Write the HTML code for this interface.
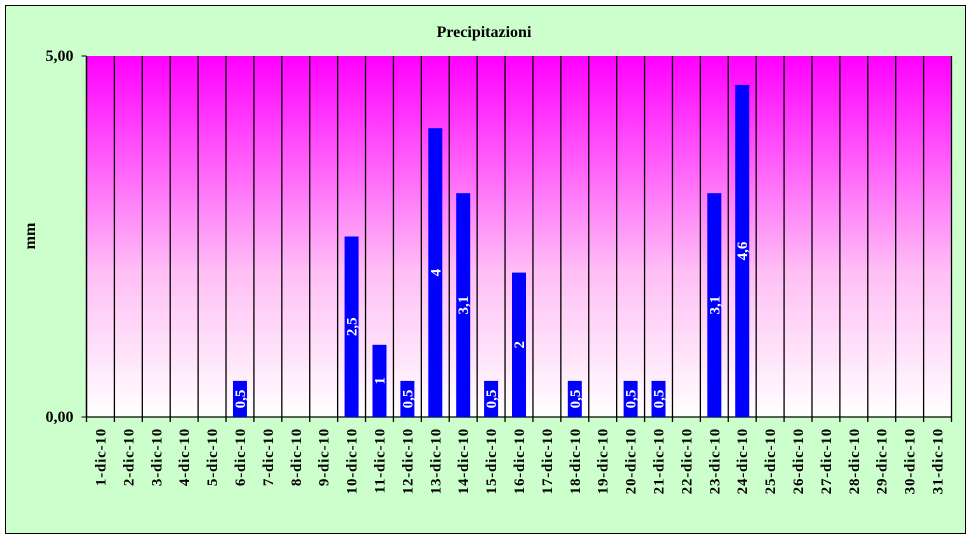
<!DOCTYPE html>
<html><head><meta charset="utf-8"><style>
body{margin:0;background:#fff}
svg{display:block}
text{font-family:"Liberation Serif",serif;font-weight:bold}
</style></head><body>
<svg id="chart" width="970" height="539">
<defs><linearGradient id="g" x1="0" y1="0" x2="0" y2="1"><stop offset="0" stop-color="#ff00ff"/><stop offset="0.6" stop-color="#ffbff5"/><stop offset="1" stop-color="#ffffff"/></linearGradient></defs>
<rect x="5.5" y="5.5" width="960" height="528" fill="#ccffcc" stroke="#000"/>
<text x="484" y="37" text-anchor="middle" font-size="16">Precipitazioni</text>
<rect x="86.5" y="56" width="865" height="361" fill="url(#g)"/>
<text transform="translate(35,236) rotate(-90)" text-anchor="middle" font-size="16">mm</text>
<g id="layer"></g>
</svg>
<script>
const categories=[];for(let d=1;d<=31;d++)categories.push(d+'-dic-10');
const values=[0,0,0,0,0,0.5,0,0,0,2.5,1,0.5,4,3.1,0.5,2,0,0.5,0,0.5,0.5,0,3.1,4.6,0,0,0,0,0,0,0];
const yTicks=[0,5];
const yTickLabels=['0,00','5,00'];
const X0=86.5,X1=951.5,Y0=417,Y1=56,YMAX=5;
const bw=(X1-X0)/categories.length;
const y=v=>Y0-(v/YMAX)*(Y0-Y1);
const x=i=>X0+i*bw;
const NS='http://www.w3.org/2000/svg',L=document.getElementById('layer');
function mk(t,a){const e=document.createElementNS(NS,t);for(const k in a)e.setAttribute(k,a[k]);L.appendChild(e);return e;}
for(let i=0;i<=categories.length;i++){const l=mk('line',{x1:x(i),x2:x(i),y1:Y1,y2:Y0+5,stroke:'#000','stroke-width':1.3});

}
mk('line',{x1:X0,x2:X1,y1:Y0,y2:Y0,stroke:'#000','stroke-width':1.3});
mk('line',{x1:X0,x2:X0,y1:Y1,y2:Y0,stroke:'#000','stroke-width':1.3});
yTicks.forEach((v,i)=>{mk('line',{x1:X0-5,x2:X0,y1:y(v),y2:y(v),stroke:'#000'});
const t=mk('text',{x:X0-13,y:y(v)+5,'text-anchor':'end','font-size':16});t.textContent=yTickLabels[i];

});
categories.forEach((c,i)=>{const cx=x(i)+bw/2;
const t=mk('text',{transform:`translate(${cx+5},${Y0+11}) rotate(-90)`,'text-anchor':'end','font-size':15,'letter-spacing':'0.8'});t.textContent=c;


const v=values[i];if(v>0){const b=mk('rect',{x:cx-7,y:y(v),width:14,height:Y0-y(v),fill:'#0000ff'});


const ly=(y(v)+Y0)/2;const lt=mk('text',{transform:`translate(${cx+5},${ly}) rotate(-90)`,'text-anchor':'middle','font-size':15,fill:'#fff','font-weight':'normal'});
lt.textContent=String(v).replace('.',',');

}});
</script>
</body></html>
